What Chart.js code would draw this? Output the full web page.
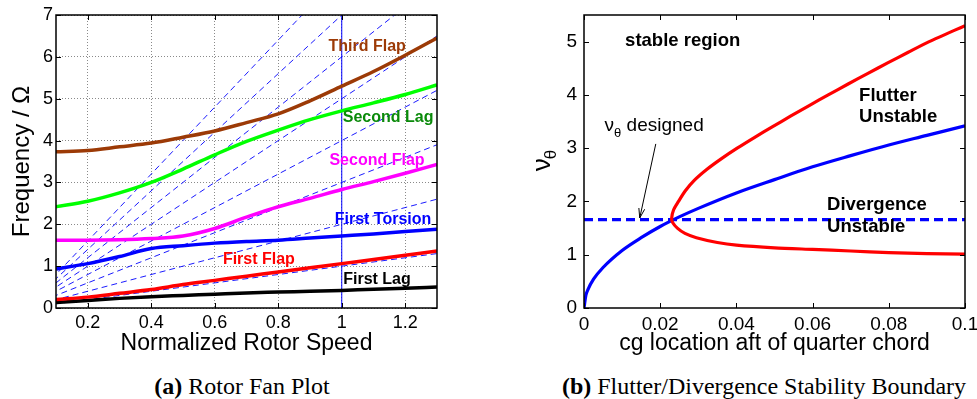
<!DOCTYPE html>
<html>
<head>
<meta charset="utf-8">
<script src="https://cdn.jsdelivr.net/npm/chart.js@4.4.0/dist/chart.umd.min.js"></script>
<style>
  body { margin: 0; background: #fff; width: 977px; height: 399px; overflow: hidden; position: relative; }
  #wrapA { position: absolute; left: 0; top: 0; width: 470px; height: 360px; }
  #wrapB { position: absolute; left: 490px; top: 0; width: 487px; height: 360px; }
  .cap { position: absolute; top: 374px; line-height: 24px; font-family: "Liberation Serif", "Times New Roman", serif;
         font-size: 24px; white-space: nowrap; transform: translateX(-50%); color: #000; }
</style>
</head>
<body>
<div id="wrapA"><canvas id="fanChart"></canvas></div>
<div id="wrapB"><canvas id="stabChart"></canvas></div>
<div class="cap" style="left:242px"><b>(a)</b> Rotor Fan Plot</div>
<div class="cap" style="left:764px"><b>(b)</b> Flutter/Divergence Stability Boundary</div>

<script>
const SANS = '"Liberation Sans", Arial, Helvetica, sans-serif';

// ---- (a) rotor fan plot ----
const speed        = [0.1, 0.2, 0.3, 0.4, 0.5, 0.6, 0.7, 0.8, 0.9, 1.0, 1.1, 1.2, 1.3];
const firstLag     = [0.13, 0.18, 0.23, 0.27, 0.30, 0.33, 0.36, 0.38, 0.40, 0.42, 0.45, 0.47, 0.50];
const firstFlap    = [0.20, 0.26, 0.35, 0.44, 0.56, 0.66, 0.76, 0.86, 0.96, 1.06, 1.16, 1.26, 1.36];
const firstTorsion = [0.93, 1.06, 1.23, 1.42, 1.49, 1.55, 1.59, 1.62, 1.67, 1.72, 1.77, 1.83, 1.88];
const secondFlap   = [1.62, 1.62, 1.63, 1.66, 1.72, 1.90, 2.17, 2.42, 2.62, 2.83, 3.02, 3.22, 3.43];
const secondLag    = [2.42, 2.55, 2.75, 3.00, 3.32, 3.66, 3.98, 4.25, 4.50, 4.71, 4.90, 5.10, 5.33];
const thirdFlap    = [3.73, 3.76, 3.85, 3.94, 4.08, 4.23, 4.43, 4.64, 4.95, 5.30, 5.65, 6.04, 6.45];

// per-rev lines run from the origin to x = 1.3
const fanEndX = 1.3;
const fanEndY = [1.3, 2.6, 3.9, 5.2, 6.5, 7.8, 9.1, 10.4];
const nominalSpeed = 1.0;

const speedTicks      = [0.2, 0.4, 0.6, 0.8, 1, 1.2];
const speedTickLabels = ['0.2', '0.4', '0.6', '0.8', '1', '1.2'];
const freqTicks       = [0, 1, 2, 3, 4, 5, 6, 7];
const freqTickLabels  = ['0', '1', '2', '3', '4', '5', '6', '7'];

// ---- (b) flutter / divergence boundary ----
const divCg = [0, 0.0005, 0.001, 0.0025, 0.005, 0.01, 0.015, 0.02, 0.025, 0.03, 0.04, 0.05, 0.06, 0.07, 0.08, 0.09, 0.1];
const divNu = [0, 0.24, 0.34, 0.54, 0.76, 1.08, 1.32, 1.53, 1.71, 1.87, 2.16, 2.41, 2.65, 2.86, 3.06, 3.24, 3.42];
// flutter boundary traced from the lower right, round the nose, to the upper right
const flutCg = [0.1, 0.09, 0.08, 0.07, 0.06, 0.05, 0.04, 0.035, 0.0295, 0.0265, 0.0245, 0.0233, 0.0230,
                0.0235, 0.0248, 0.0266, 0.0290, 0.0322, 0.0360, 0.0402, 0.0447, 0.0494, 0.0542, 0.0591,
                0.0641, 0.0692, 0.0744, 0.0797, 0.0851, 0.0906, 0.1];
const flutNu = [1.01, 1.02, 1.04, 1.07, 1.10, 1.13, 1.18, 1.23, 1.32, 1.40, 1.50, 1.60, 1.68,
                1.84, 2.00, 2.20, 2.40, 2.60, 2.80, 3.00, 3.20, 3.40, 3.60, 3.80,
                4.00, 4.20, 4.40, 4.60, 4.80, 5.00, 5.30];
const designCg = [0, 0.1];
const designNu = 1.66;

const cgTicks      = [0, 0.02, 0.04, 0.06, 0.08, 0.1];
const cgTickLabels = ['0', '0.02', '0.04', '0.06', '0.08', '0.1'];
const nuTicks      = [0, 1, 2, 3, 4, 5];
const nuTickLabels = ['0', '1', '2', '3', '4', '5'];

const pts = (xs, ys) => xs.map((x, i) => ({ x: x, y: ys[i] }));

// box round the axes and inward tick marks, matlab style
function drawFrame(chart) {
    const { ctx, chartArea: a, scales: { x, y } } = chart;
    ctx.save();
    ctx.strokeStyle = '#000';
    ctx.lineWidth = 1;
    const tl = 5;
    ctx.beginPath();
    x.ticks.forEach(t => {
        const px = Math.round(x.getPixelForValue(t.value)) + 0.5;
        ctx.moveTo(px, a.bottom); ctx.lineTo(px, a.bottom - tl);
        ctx.moveTo(px, a.top); ctx.lineTo(px, a.top + tl);
    });
    y.ticks.forEach(t => {
        const py = Math.round(y.getPixelForValue(t.value)) + 0.5;
        ctx.moveTo(a.left, py); ctx.lineTo(a.left + tl, py);
        ctx.moveTo(a.right, py); ctx.lineTo(a.right - tl, py);
    });
    ctx.stroke();
    ctx.lineWidth = 1.5;
    ctx.strokeRect(a.left, a.top, a.right - a.left, a.bottom - a.top);
    ctx.restore();
}

function drawText(chart, text, xv, yv, color, font, align) {
    const { ctx, scales: { x, y } } = chart;
    ctx.save();
    ctx.font = font;
    ctx.fillStyle = color;
    ctx.textAlign = align || 'center';
    ctx.textBaseline = 'middle';
    ctx.fillText(text, x.getPixelForValue(xv), y.getPixelForValue(yv));
    ctx.restore();
}

const fanLabels = [
    { text: 'Third Flap',    x: 1.08,  y: 6.24, color: '#9c3a06' },
    { text: 'Second Lag',    x: 1.146, y: 4.54, color: '#0a8a0a' },
    { text: 'Second Flap',   x: 1.111, y: 3.53, color: '#ff00ff' },
    { text: 'First Torsion', x: 1.13,  y: 2.12, color: '#0000ff' },
    { text: 'First Flap',    x: 0.739, y: 1.165, color: '#ff0000' },
    { text: 'First Lag',     x: 1.111, y: 0.69, color: '#000000' }
];

const fanPlugin = {
    id: 'fanFrame',
    afterDraw(chart) {
        drawFrame(chart);
        fanLabels.forEach(l => drawText(chart, l.text, l.x, l.y, l.color, 'bold 16px ' + SANS));
    }
};

const stabPlugin = {
    id: 'stabFrame',
    afterDraw(chart) {
        drawFrame(chart);
        const { ctx, scales: { x, y } } = chart;
        const bold = 'bold 18.5px ' + SANS;
        drawText(chart, 'stable region', 0.0259, 5.02, '#000', bold);
        drawText(chart, 'Flutter', 0.0722, 3.99, '#000', bold, 'left');
        drawText(chart, 'Unstable', 0.0722, 3.585, '#000', bold, 'left');
        drawText(chart, 'Divergence', 0.0638, 1.93, '#000', bold, 'left');
        drawText(chart, 'Unstable', 0.0638, 1.52, '#000', bold, 'left');

        // "nu_theta designed" note with arrow to the design line
        ctx.save();
        ctx.fillStyle = '#000';
        ctx.textBaseline = 'alphabetic';
        let px = x.getPixelForValue(0.0054);
        const base = y.getPixelForValue(3.43) + 6;
        ctx.font = '19px ' + SANS;
        ctx.fillText('ν', px, base);
        px += ctx.measureText('ν').width;
        ctx.font = '13px ' + SANS;
        ctx.fillText('θ', px, base + 6);
        px += ctx.measureText('θ').width;
        ctx.font = '19px ' + SANS;
        ctx.fillText(' designed', px, base);

        const x1 = x.getPixelForValue(0.01884), y1 = y.getPixelForValue(3.08);
        const x2 = x.getPixelForValue(0.01463), y2 = y.getPixelForValue(1.69);
        ctx.strokeStyle = '#000';
        ctx.lineWidth = 1;
        ctx.beginPath();
        ctx.moveTo(x1, y1); ctx.lineTo(x2, y2);
        const ang = Math.atan2(y2 - y1, x2 - x1);
        ctx.moveTo(x2 - 10 * Math.cos(ang - 0.3), y2 - 10 * Math.sin(ang - 0.3));
        ctx.lineTo(x2, y2);
        ctx.lineTo(x2 - 10 * Math.cos(ang + 0.3), y2 - 10 * Math.sin(ang + 0.3));
        ctx.stroke();

        // y axis title nu_theta, rotated
        const cx = 54, cy = 160;
        ctx.translate(cx, cy);
        ctx.rotate(-Math.PI / 2);
        ctx.font = '26px ' + SANS;
        const wNu = ctx.measureText('ν').width;
        ctx.font = '17px ' + SANS;
        const wTh = ctx.measureText('θ').width;
        const start = -(wNu + wTh) / 2;
        ctx.font = '26px ' + SANS;
        ctx.fillText('ν', start, 6);
        ctx.font = '17px ' + SANS;
        ctx.fillText('θ', start + wNu - 1, 12);
        ctx.restore();
    }
};

function line(data, color, width, dash) {
    return {
        data: data, showLine: true, borderColor: color, backgroundColor: color,
        borderWidth: width, borderDash: dash || [], pointRadius: 0, fill: false
    };
}

const fanDatasets = [
    line(pts(speed, thirdFlap), '#9c3a06', 3.5),
    line(pts(speed, secondLag), '#00ff00', 3.5),
    line(pts(speed, secondFlap), '#ff00ff', 3.5),
    line(pts(speed, firstTorsion), '#0000ff', 3.5),
    line(pts(speed, firstFlap), '#ff0000', 3.5),
    line(pts(speed, firstLag), '#000000', 3.5),
    line([{ x: nominalSpeed, y: 0 }, { x: nominalSpeed, y: 7 }], '#0000ff', 1)
];
fanEndY.forEach(v => fanDatasets.push(line([{ x: 0, y: 0 }, { x: fanEndX, y: v }], '#0000ff', 0.9, [6, 4])));
fanDatasets.slice(0, 6).forEach(d => { d.cubicInterpolationMode = 'monotone'; });

function axisFont(size) { return { family: SANS, size: size }; }

new Chart(document.getElementById('fanChart'), {
    type: 'scatter',
    data: { datasets: fanDatasets },
    options: {
        responsive: true, maintainAspectRatio: false, animation: false,
        layout: { padding: { left: 0, top: 15, right: 33, bottom: 0 } },
        plugins: { legend: { display: false }, tooltip: { enabled: false } },
        scales: {
            x: {
                type: 'linear', min: 0.1, max: 1.3,
                afterBuildTicks: s => { s.ticks = speedTicks.map(v => ({ value: v })); },
                afterFit: s => { s.height = 52; s.paddingLeft = 0; s.paddingRight = 0; },
                ticks: { callback: (v, i) => speedTickLabels[i], font: axisFont(18), color: '#000', padding: 4, maxRotation: 0, autoSkip: false },
                grid: { color: '#8a8a8a', lineWidth: 1, drawTicks: false },
                border: { display: false, dash: [1, 2] },
                title: { display: true, text: 'Normalized Rotor Speed', font: axisFont(23), color: '#000', padding: { top: 0, bottom: 3 } }
            },
            y: {
                type: 'linear', min: 0, max: 7,
                afterBuildTicks: s => { s.ticks = freqTicks.map(v => ({ value: v })); },
                afterFit: s => { s.width = 56; s.paddingTop = 0; s.paddingBottom = 0; },
                ticks: { callback: (v, i) => freqTickLabels[i], font: axisFont(18), color: '#000', padding: 3, autoSkip: false },
                grid: { color: '#8a8a8a', lineWidth: 1, drawTicks: false },
                border: { display: false, dash: [1, 2] },
                title: { display: true, text: 'Frequency / Ω', font: axisFont(24), color: '#000', padding: { top: 8, bottom: 0 } }
            }
        }
    },
    plugins: [fanPlugin]
});

const flutDs = line(pts(flutCg, flutNu), '#ff0000', 3.2);
flutDs.tension = 0.25;
const divDs = line(pts(divCg, divNu), '#0000ff', 3.2);
divDs.cubicInterpolationMode = 'monotone';
const designDs = line(designCg.map(c => ({ x: c, y: designNu })), '#0000ff', 3.2, [9, 5]);

new Chart(document.getElementById('stabChart'), {
    type: 'scatter',
    data: { datasets: [flutDs, divDs, designDs] },
    options: {
        responsive: true, maintainAspectRatio: false, animation: false,
        layout: { padding: { left: 0, top: 15, right: 12, bottom: 0 } },
        plugins: { legend: { display: false }, tooltip: { enabled: false } },
        scales: {
            x: {
                type: 'linear', min: 0, max: 0.1,
                afterBuildTicks: s => { s.ticks = cgTicks.map(v => ({ value: v })); },
                afterFit: s => { s.height = 52; s.paddingLeft = 0; s.paddingRight = 0; },
                ticks: { callback: (v, i) => cgTickLabels[i], font: axisFont(19), color: '#000', padding: 5, maxRotation: 0, autoSkip: false },
                grid: { display: false, drawTicks: false },
                border: { display: false },
                title: { display: true, text: 'cg location aft of quarter chord', font: axisFont(23), color: '#000', padding: { top: 0, bottom: 3 } }
            },
            y: {
                type: 'linear', min: 0, max: 5.5,
                afterBuildTicks: s => { s.ticks = nuTicks.map(v => ({ value: v })); },
                afterFit: s => { s.width = 94; s.paddingTop = 0; s.paddingBottom = 0; },
                ticks: { callback: (v, i) => nuTickLabels[i], font: axisFont(19), color: '#000', padding: 7, autoSkip: false },
                grid: { display: false, drawTicks: false },
                border: { display: false }
            }
        }
    },
    plugins: [stabPlugin]
});
</script>
</body>
</html>
